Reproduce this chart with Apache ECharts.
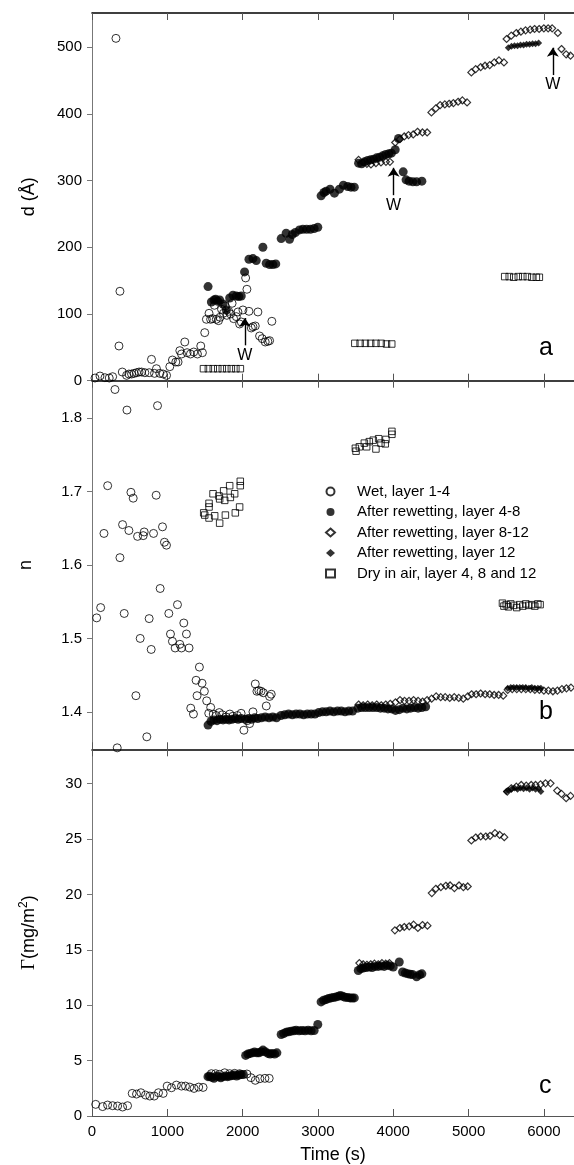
<!DOCTYPE html>
<html>
<head>
<meta charset="utf-8">
<script src="https://cdn.jsdelivr.net/npm/echarts@6/dist/echarts.min.js"></script>
<style>
  html, body { margin: 0; padding: 0; background: #fff; }
  #chart { width: 574px; height: 1165px; }
</style>
</head>
<body>
<div id="chart"></div>
<script>
// ---- data: [time (s), value] ----
const seriesNames = [
  "Wet, layer 1-4",
  "After rewetting, layer 4-8",
  "After rewetting, layer 8-12",
  "After rewetting, layer 12",
  "Dry in air, layer 4, 8 and 12"
];

const xTicks = [0, 1000, 2000, 3000, 4000, 5000, 6000];
const dTicks = [0, 100, 200, 300, 400, 500];
const nTicks = [1.4, 1.5, 1.6, 1.7, 1.8];
const gTicks = [0, 5, 10, 15, 20, 25, 30];

// panel a : thickness d (Å)
const wetD = [[40,4],[106,7],[172,4.5],[229,4],[274,6],[318,513],[358,52],[371,134],[402,13],
  [459,8],[490,10],[525,10],[560,11],[592,12],[625,13],[658,13],[702,12],[759,12],[790,32],
  [830,11],[856,18],[900,11],[945,10],[990,8],[1033,21],[1068,31],[1113,28],[1143,28],[1166,45],
  [1188,40],[1232,58],[1263,42],[1307,40],[1351,43],[1400,40],[1444,52],[1466,42],[1497,72],
  [1519,92],[1554,101],[1575,92],[1600,93],[1625,113],[1650,92],[1680,90],[1700,95],[1720,107],
  [1745,101],[1770,112],[1790,98],[1815,104],[1840,100],[1860,116],[1880,93],[1916,96],[1938,103],
  [1960,85],[1982,88],[2004,106],[2040,154],[2057,137],[2084,104],[2115,79],[2137,81],[2168,82],
  [2203,103],[2225,67],[2260,63],[2300,58],[2335,59],[2358,60],[2388,89]];
const rew48D = [[1541,141],[1585,118],[1620,121],[1642,122],[1670,119],[1695,121],[1740,115],
  [1784,106],[1828,124],[1872,128],[1916,127],[1950,126],[1982,127],[2026,163],[2084,182],
  [2137,183],[2181,180],[2269,200],[2313,176],[2358,174],[2402,174],[2440,175],[2512,213],
  [2578,221],[2623,212],[2660,219],[2700,222],[2755,226],[2800,227],[2850,227],[2900,227],
  [2950,228],[2998,230],[3042,277],[3080,282],[3108,284],[3161,287],[3219,281],[3285,287],
  [3338,293],[3395,291],[3439,290],[3483,290],[3540,326],[3580,325],[3620,328],[3660,330],
  [3700,331],[3740,332],[3780,334],[3820,335],[3860,337],[3900,339],[3940,340],[3975,341],
  [4026,346],[4070,363],[4132,313],[4170,301],[4210,299],[4260,298],[4310,298],[4380,299]];
const rew812D = [[3540,331],[3600,327],[3650,325],[3704,324],[3770,326],[3837,327],[3903,328],
  [3956,328],[4026,357],[4088,362],[4146,366],[4203,368],[4265,369],[4322,373],[4388,372],
  [4450,372],[4507,402],[4565,408],[4623,413],[4685,414],[4742,415],[4799,416],[4861,418],
  [4918,420],[4980,417],[5037,462],[5095,467],[5161,470],[5219,472],[5281,473],[5342,477],
  [5404,480],[5470,477],[5505,512],[5567,517],[5634,521],[5695,523],[5757,525],[5818,526],
  [5876,527],[5937,527],[6000,528],[6057,528],[6110,528],[6185,521],[6234,497],[6296,489],
  [6354,487]];
const rew12D = [[5528,499],[5570,501],[5610,502],[5650,502],[5690,503],[5730,503],[5770,504],
  [5810,504],[5850,505],[5890,505],[5930,506]];
const dryD = [[1480,18],[1545,18],[1610,18],[1670,18],[1730,18],[1790,18],[1850,18],[1910,18],
  [1970,18],[3490,56],[3560,56],[3630,56],[3700,56],[3770,56],[3840,56],[3910,55],[3980,55],
  [5480,156],[5540,156],[5600,155],[5660,156],[5720,156],[5780,156],[5840,155],[5900,155],
  [5940,155]];
// rewetting arrows "W": [time, tail d, tip d]
const arrowsW = [[2030, 53, 94], [4004, 278, 319], [6119, 458, 499]];

// panel b : refractive index n
const wetN = [[62,1.528],[115,1.542],[159,1.643],[208,1.708],[305,1.839],[335,1.351],[371,1.610],
  [406,1.655],[428,1.534],[464,1.811],[490,1.647],[517,1.699],[547,1.691],[583,1.422],[605,1.639],
  [640,1.500],[680,1.640],[693,1.645],[728,1.366],[759,1.527],[786,1.485],[817,1.643],[852,1.695],
  [870,1.817],[905,1.568],[936,1.652],[962,1.631],[989,1.627],[1020,1.534],[1042,1.506],
  [1068,1.496],[1104,1.487],[1135,1.546],[1166,1.492],[1188,1.487],[1219,1.521],[1254,1.506],
  [1289,1.487],[1311,1.405],[1347,1.397],[1382,1.443],[1395,1.422],[1426,1.461],[1461,1.439],
  [1492,1.428],[1523,1.415],[1550,1.398],[1576,1.406],[1610,1.397],[1650,1.395],[1690,1.399],
  [1730,1.396],[1780,1.393],[1830,1.397],[1870,1.394],[1930,1.395],[1980,1.398],[2017,1.375],
  [2060,1.388],[2093,1.384],[2137,1.400],[2168,1.438],[2190,1.428],[2215,1.429],[2245,1.428],
  [2275,1.426],[2314,1.408],[2358,1.421],[2380,1.424]];
const rew48N = [[1541,1.382],[1580,1.387],[1620,1.389],[1660,1.388],[1700,1.390],[1740,1.389],
  [1780,1.390],[1820,1.389],[1860,1.390],[1900,1.391],[1940,1.390],[1980,1.391],[2040,1.390],
  [2080,1.391],[2120,1.390],[2160,1.392],[2200,1.391],[2250,1.392],[2300,1.393],[2350,1.392],
  [2400,1.393],[2450,1.392],[2510,1.395],[2560,1.396],[2610,1.397],[2660,1.396],[2710,1.397],
  [2760,1.397],[2810,1.396],[2860,1.397],[2910,1.397],[2960,1.397],[3010,1.399],[3060,1.400],
  [3110,1.400],[3160,1.401],[3210,1.400],[3260,1.401],[3310,1.401],[3360,1.400],[3410,1.401],
  [3460,1.401],[3530,1.405],[3580,1.406],[3630,1.406],[3680,1.406],[3730,1.406],[3780,1.406],
  [3830,1.405],[3880,1.405],[3930,1.404],[3980,1.404],[4030,1.402],[4080,1.403],[4130,1.405],
  [4180,1.404],[4230,1.405],[4280,1.406],[4330,1.405],[4380,1.406],[4430,1.407]];
const rew812N = [[3540,1.410],[3600,1.409],[3660,1.410],[3720,1.409],[3780,1.410],[3840,1.409],
  [3900,1.410],[3960,1.411],[4030,1.413],[4090,1.416],[4150,1.415],[4210,1.415],[4270,1.416],
  [4330,1.415],[4390,1.414],[4450,1.416],[4510,1.418],[4570,1.421],[4630,1.420],[4690,1.420],
  [4750,1.419],[4810,1.420],[4870,1.419],[4930,1.418],[4990,1.421],[5040,1.424],[5100,1.424],
  [5160,1.425],[5220,1.424],[5280,1.424],[5340,1.423],[5400,1.423],[5460,1.422],[5520,1.430],
  [5580,1.431],[5640,1.431],[5700,1.431],[5760,1.431],[5820,1.431],[5880,1.430],[5940,1.430],
  [6000,1.429],[6060,1.429],[6120,1.428],[6180,1.429],[6240,1.431],[6300,1.432],[6360,1.433]];
const rew12N = [[5520,1.432],[5560,1.433],[5600,1.433],[5640,1.433],[5680,1.433],[5720,1.433],
  [5760,1.433],[5800,1.432],[5840,1.433],[5880,1.432],[5920,1.432],[5960,1.432]];
const dryN = [[1483,1.671],[1497,1.668],[1554,1.684],[1554,1.679],[1554,1.664],[1607,1.697],
  [1629,1.667],[1686,1.694],[1695,1.690],[1695,1.657],[1748,1.701],[1762,1.688],[1771,1.668],
  [1828,1.708],[1837,1.692],[1894,1.697],[1903,1.671],[1960,1.679],[1969,1.714],[1969,1.708],
  [3497,1.759],[3506,1.755],[3550,1.761],[3616,1.766],[3647,1.761],[3682,1.768],[3735,1.770],
  [3770,1.758],[3806,1.772],[3837,1.766],[3894,1.765],[3903,1.771],[3982,1.782],[3982,1.778],
  [5450,1.548],[5470,1.544],[5500,1.546],[5530,1.543],[5560,1.547],[5600,1.545],[5640,1.542],
  [5680,1.546],[5720,1.544],[5760,1.547],[5800,1.545],[5840,1.546],[5880,1.544],[5920,1.547],
  [5950,1.546]];

// panel c : adsorbed amount Γ (mg/m²)
const wetG = [[49,1.05],[141,0.85],[207,0.99],[274,0.93],[340,0.9],[406,0.81],[472,0.93],
  [534,2.04],[591,1.98],[649,2.1],[711,1.89],[768,1.8],[826,1.8],[883,2.1],[945,2.04],[998,2.7],
  [1055,2.55],[1121,2.79],[1188,2.7],[1241,2.7],[1298,2.61],[1355,2.49],[1417,2.61],[1475,2.58],
  [1585,3.82],[1642,3.82],[1695,3.76],[1762,3.9],[1828,3.82],[1894,3.85],[1960,3.82],[2057,3.79],
  [2110,3.46],[2168,3.22],[2229,3.37],[2296,3.4],[2353,3.4]];
const rew48G = [[1540,3.55],[1560,3.6],[1590,3.5],[1620,3.4],[1650,3.6],[1680,3.55],[1710,3.45],
  [1740,3.55],[1770,3.6],[1800,3.55],[1830,3.6],[1860,3.66],[1890,3.7],[1920,3.6],[1950,3.7],
  [1980,3.75],[2010,3.75],[2040,5.47],[2070,5.6],[2100,5.65],[2130,5.7],[2158,5.77],[2190,5.7],
  [2216,5.7],[2245,5.8],[2270,5.95],[2300,5.8],[2336,5.65],[2365,5.6],[2393,5.65],[2425,5.6],
  [2455,5.7],[2512,7.36],[2545,7.45],[2578,7.57],[2610,7.6],[2644,7.66],[2680,7.7],[2710,7.75],
  [2750,7.7],[2790,7.72],[2830,7.7],[2870,7.75],[2910,7.7],[2950,7.72],[2998,8.26],[3042,10.3],
  [3075,10.45],[3108,10.51],[3140,10.6],[3174,10.66],[3205,10.7],[3240,10.75],[3270,10.8],
  [3298,10.87],[3330,10.8],[3360,10.72],[3395,10.7],[3426,10.66],[3455,10.65],[3483,10.66],
  [3536,13.13],[3570,13.3],[3600,13.35],[3640,13.4],[3680,13.45],[3720,13.4],[3760,13.5],
  [3800,13.5],[3840,13.55],[3880,13.5],[3920,13.6],[3960,13.55],[4000,13.45],[4080,13.9],
  [4124,13.0],[4160,12.9],[4190,12.85],[4225,12.8],[4256,12.77],[4310,12.56],[4350,12.75],
  [4380,12.83]];
const rew812G = [[3550,13.8],[3600,13.7],[3650,13.65],[3700,13.7],[3750,13.75],[3800,13.7],
  [3850,13.8],[3900,13.75],[3950,13.8],[4022,16.76],[4088,16.97],[4146,17.06],[4212,17.12],
  [4270,17.27],[4327,16.97],[4388,17.24],[4454,17.18],[4512,20.12],[4565,20.51],[4632,20.66],
  [4698,20.78],[4755,20.81],[4812,20.57],[4874,20.81],[4931,20.66],[4989,20.72],[5037,24.87],
  [5095,25.14],[5161,25.23],[5228,25.23],[5285,25.29],[5351,25.53],[5413,25.38],[5474,25.17],
  [5514,29.28],[5567,29.58],[5634,29.73],[5700,29.88],[5766,29.82],[5832,29.88],[5890,29.88],
  [5956,29.94],[6022,30.03],[6088,30.03],[6177,29.37],[6234,29.07],[6296,28.68],[6354,28.89]];
const rew12G = [[5500,29.3],[5530,29.4],[5570,29.5],[5610,29.6],[5650,29.5],[5690,29.6],
  [5730,29.55],[5770,29.6],[5810,29.5],[5850,29.6],[5890,29.5],[5930,29.55],[5960,29.3]];

// ---- chart ----
const FONT = '"Liberation Sans", Arial, Helvetica, sans-serif';
const chart = echarts.init(document.getElementById("chart"), null, { renderer: "canvas" });

const grids = [
  { left: 92, top: 13, width: 483, height: 367.7 },
  { left: 92, top: 380.7, width: 483, height: 368.6 },
  { left: 92, top: 749.3, width: 483, height: 367.4 }
];

// marker look per category
const styles = [
  { symbol: "circle", symbolSize: 8, itemStyle: { color: "rgba(0,0,0,0)", borderColor: "#000", borderWidth: 1 } },
  { symbol: "circle", symbolSize: 9, itemStyle: { color: "#000" } },
  { symbol: "diamond", symbolSize: 7, itemStyle: { color: "rgba(0,0,0,0)", borderColor: "#000", borderWidth: 1.2 } },
  { symbol: "diamond", symbolSize: 7, itemStyle: { color: "#000" } },
  { symbol: "rect", symbolSize: 6.5, itemStyle: { color: "rgba(0,0,0,0)", borderColor: "#000", borderWidth: 1 } }
];

const xAxes = [];
grids.forEach((g, i) => {
  xAxes.push({
    type: "value", gridIndex: i, position: "bottom", min: 0, max: 6400,
    axisLine: { show: true, lineStyle: { color: i < 2 ? "#000" : "#555", width: i < 2 ? 1.6 : 1.2 } },
    axisTick: { show: true, inside: true, length: 7, customValues: xTicks, lineStyle: { color: "#555" } },
    axisLabel: {
      show: i === 2, customValues: xTicks, margin: 8,
      fontSize: 15, fontFamily: FONT, color: "#000",
      formatter: v => String(v)
    },
    splitLine: { show: false },
    name: i === 2 ? "Time (s)" : "",
    nameLocation: "middle", nameGap: 30,
    nameTextStyle: { fontSize: 18, fontFamily: FONT, color: "#000" }
  });
  xAxes.push({
    type: "value", gridIndex: i, position: "top", min: 0, max: 6400,
    axisLine: { show: i === 0, lineStyle: { color: "#000", width: 1.6 } },
    axisTick: { show: true, inside: true, length: 7, customValues: xTicks, lineStyle: { color: "#555" } },
    axisLabel: { show: false },
    splitLine: { show: false }
  });
});

const yBase = {
  type: "value",
  axisLine: { show: true, lineStyle: { color: "#777", width: 1 } },
  axisTick: { show: true, inside: false, length: 5, lineStyle: { color: "#777" } },
  splitLine: { show: false },
  nameLocation: "middle",
  nameTextStyle: { fontSize: 18, fontFamily: FONT, color: "#000" }
};
const yAxes = [
  Object.assign({}, yBase, {
    gridIndex: 0, min: 0, max: 551, name: "d (Å)", nameGap: 54,
    axisTick: Object.assign({}, yBase.axisTick, { customValues: dTicks }),
    axisLabel: { customValues: dTicks, margin: 10, fontSize: 15, fontFamily: FONT, color: "#000" }
  }),
  Object.assign({}, yBase, {
    gridIndex: 1, min: 1.349, max: 1.851, name: "n", nameGap: 57,
    axisTick: Object.assign({}, yBase.axisTick, { customValues: nTicks }),
    axisLabel: {
      customValues: nTicks, margin: 10, fontSize: 15, fontFamily: FONT, color: "#000",
      formatter: v => v.toFixed(1)
    }
  }),
  Object.assign({}, yBase, {
    gridIndex: 2, min: 0, max: 33.1, name: "{g|Γ}(mg/m{s|2})", nameGap: 52,
    nameTextStyle: {
      fontSize: 18, fontFamily: FONT, color: "#000",
      rich: {
        g: { fontSize: 19, fontFamily: '"Liberation Serif", "DejaVu Serif", serif', color: "#000" },
        s: { fontSize: 12, fontFamily: FONT, color: "#000", padding: [0, 0, 10, 0] }
      }
    },
    axisTick: Object.assign({}, yBase.axisTick, { customValues: gTicks }),
    axisLabel: { customValues: gTicks, margin: 10, fontSize: 15, fontFamily: FONT, color: "#000" }
  })
];

const panels = [
  [wetD, rew48D, rew812D, rew12D, dryD],
  [wetN, rew48N, rew812N, rew12N, dryN],
  [wetG, rew48G, rew812G, rew12G, null]
];

const series = [];
panels.forEach((list, gi) => {
  list.forEach((data, si) => {
    if (!data) return;
    series.push(Object.assign({
      name: seriesNames[si],
      type: "scatter",
      xAxisIndex: gi * 2,
      yAxisIndex: gi,
      data: data,
      silent: true,
      animation: false
    }, styles[si]));
  });
});

// rewetting arrows on panel a
series.push({
  type: "scatter",
  xAxisIndex: 0,
  yAxisIndex: 0,
  data: [],
  silent: true,
  animation: false,
  markLine: {
    silent: true,
    animation: false,
    symbol: ["none", "arrow"],
    symbolSize: 9,
    lineStyle: { color: "#000", width: 1.4, type: "solid" },
    label: {
      show: true, position: "start", distance: 2, formatter: "W",
      fontSize: 16, fontFamily: FONT, color: "#000"
    },
    emphasis: { disabled: true },
    data: arrowsW.map(a => [{ coord: [a[0], a[1]] }, { coord: [a[0], a[2]] }])
  }
});

const option = {
  backgroundColor: "#fff",
  animation: false,
  grid: grids,
  xAxis: xAxes,
  yAxis: yAxes,
  legend: {
    data: seriesNames,
    orient: "vertical",
    left: 325,
    top: 484,
    padding: 0,
    itemWidth: 9,
    itemHeight: 8,
    itemGap: 5.5,
    selectedMode: false,
    textStyle: { fontSize: 15, fontFamily: FONT, color: "#000", padding: [0, 0, 0, 17] }
  },
  graphic: [
    { type: "text", left: 539, top: 336, style: { text: "a", font: "25px " + FONT, fill: "#000" } },
    { type: "text", left: 539, top: 700, style: { text: "b", font: "25px " + FONT, fill: "#000" } },
    { type: "text", left: 539, top: 1074, style: { text: "c", font: "25px " + FONT, fill: "#000" } }
  ],
  series: series
};

chart.setOption(option);
</script>
</body>
</html>
